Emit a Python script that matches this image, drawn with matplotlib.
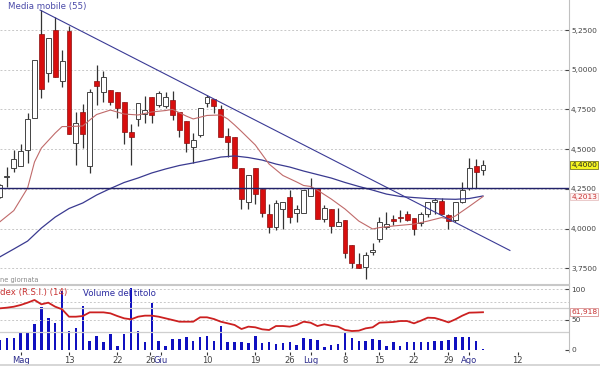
import matplotlib
matplotlib.use("Agg")
import matplotlib.pyplot as plt
import numpy as np

# ---------------- data ----------------
opens = [4.198, 4.325, 4.381, 4.394, 4.494, 4.696, 5.225, 4.979, 5.250, 4.929,
         5.244, 4.538, 4.734, 4.394, 4.929, 4.860, 4.872, 4.860, 4.797, 4.608,
         4.690, 4.721, 4.828, 4.778, 4.773, 4.809, 4.736, 4.677, 4.515, 4.589,
         4.793, 4.813, 4.750, 4.583, 4.574, 4.383, 4.169, 4.383, 4.247, 4.091,
         4.011, 4.121, 4.197, 4.096, 4.096, 4.205, 4.253, 4.060, 4.121, 4.016,
         4.053, 3.896, 3.777, 3.756, 3.854, 3.932, 4.007, 4.058, 4.074, 4.091,
         4.068, 4.037, 4.091, 4.167, 4.173, 4.085, 4.053, 4.169, 4.253, 4.396,
         4.368]
closes = [4.274, 4.330, 4.438, 4.488, 4.690, 5.061, 4.878, 5.200, 4.954, 5.055,
          4.595, 4.664, 4.595, 4.860, 4.897, 4.954, 4.797, 4.759, 4.608, 4.576,
          4.790, 4.747, 4.715, 4.851, 4.830, 4.715, 4.620, 4.540, 4.557, 4.757,
          4.826, 4.773, 4.574, 4.547, 4.379, 4.184, 4.337, 4.215, 4.100, 4.011,
          4.159, 4.169, 4.070, 4.121, 4.243, 4.253, 4.060, 4.127, 4.016, 4.043,
          3.844, 3.785, 3.750, 3.833, 3.865, 4.043, 4.028, 4.050, 4.066, 4.053,
          3.995, 4.091, 4.167, 4.180, 4.091, 4.047, 4.169, 4.243, 4.379, 4.358,
          4.400]
highs = [4.280, 4.387, 4.494, 4.532, 4.727, 5.061, 5.376, 5.200, 5.330, 5.124,
         5.275, 4.734, 4.784, 4.878, 5.030, 4.992, 4.872, 4.860, 4.797, 4.658,
         4.790, 4.834, 4.828, 4.868, 4.861, 4.868, 4.736, 4.677, 4.600, 4.757,
         4.840, 4.813, 4.778, 4.631, 4.574, 4.383, 4.337, 4.383, 4.247, 4.155,
         4.180, 4.169, 4.243, 4.148, 4.243, 4.316, 4.253, 4.148, 4.121, 4.127,
         4.053, 3.896, 3.844, 3.854, 3.907, 4.070, 4.106, 4.085, 4.117, 4.110,
         4.068, 4.106, 4.167, 4.195, 4.190, 4.091, 4.169, 4.295, 4.442, 4.436,
         4.430]
lows = [4.190, 4.261, 4.356, 4.394, 4.413, 4.696, 4.822, 4.923, 4.954, 4.891,
        4.595, 4.400, 4.507, 4.350, 4.780, 4.797, 4.780, 4.696, 4.532, 4.400,
        4.645, 4.664, 4.664, 4.767, 4.757, 4.683, 4.574, 4.484, 4.410, 4.574,
        4.767, 4.725, 4.574, 4.452, 4.379, 4.121, 4.121, 4.152, 4.074, 3.974,
        3.990, 4.000, 4.033, 4.043, 4.096, 4.205, 4.060, 4.043, 3.974, 4.016,
        3.812, 3.750, 3.750, 3.680, 3.833, 3.917, 4.000, 4.022, 4.043, 4.045,
        3.959, 4.016, 4.070, 4.090, 4.091, 3.995, 4.040, 4.159, 4.243, 4.253,
        4.337]

volume = [10.0, 12.3, 11.7, 17.7, 18.3, 25.7, 42.7, 31.7, 26.7, 59.3,
          19.0, 21.7, 44.3, 9.3, 14.3, 8.3, 15.7, 4.0, 15.7, 62.3,
          19.0, 7.7, 46.7, 9.0, 4.0, 10.7, 10.7, 12.7, 9.0, 13.3,
          14.3, 9.3, 24.0, 8.3, 8.3, 8.3, 7.3, 14.3, 7.3, 8.3,
          5.7, 6.7, 7.7, 5.0, 11.7, 11.0, 10.3, 2.7, 5.0, 6.0,
          17.7, 11.7, 9.3, 9.3, 11.0, 10.3, 4.3, 8.3, 3.7, 7.7,
          7.7, 8.3, 8.3, 9.3, 9.3, 10.0, 13.3, 12.7, 13.3, 9.3,
          1.0]

rsi = [68.3, 69.4, 71.0, 73.8, 77.6, 82.0, 74.9, 77.6, 71.0, 66.7,
       54.6, 54.6, 55.7, 61.7, 61.7, 61.7, 60.1, 55.7, 51.9, 50.3,
       54.6, 56.3, 56.3, 54.6, 51.9, 49.2, 46.4, 46.4, 46.4, 53.6,
       53.6, 50.8, 46.4, 43.7, 41.0, 34.4, 38.3, 37.2, 33.9, 32.8,
       39.3, 39.3, 38.3, 41.0, 46.4, 44.8, 39.3, 42.1, 39.9, 38.3,
       32.8, 31.1, 31.7, 35.5, 37.2, 44.8, 45.3, 45.9, 47.5, 47.5,
       43.7, 48.1, 53.0, 52.5, 49.2, 45.3, 50.3, 56.3, 61.2, 61.5,
       61.918]

ma55_idx = [0, 2, 4, 6, 8, 10, 12, 14, 16, 18, 20, 22, 24, 26, 28, 30, 32, 34,
            36, 38, 40, 42, 44, 46, 48, 50, 52, 54, 56, 58, 60, 62, 64, 66, 68, 70]
ma55_val = [3.822, 3.871, 3.921, 4.003, 4.072, 4.126, 4.161, 4.211, 4.252, 4.290,
            4.318, 4.350, 4.375, 4.397, 4.413, 4.431, 4.450, 4.457, 4.447, 4.431,
            4.406, 4.387, 4.362, 4.340, 4.318, 4.290, 4.265, 4.242, 4.217, 4.202,
            4.195, 4.189, 4.186, 4.184, 4.189, 4.205]

mas_idx = [0, 2, 4, 5, 6, 8, 9, 10, 12, 13, 14, 16, 18, 20, 22, 24, 25, 27, 28,
           30, 32, 33, 34, 35, 37, 39, 41, 43, 44, 45, 46, 48, 50, 52, 54, 55,
           57, 60, 62, 64, 65, 66, 68, 70]
mas_val = [4.043, 4.113, 4.255, 4.419, 4.507, 4.601, 4.642, 4.642, 4.646, 4.683,
           4.718, 4.746, 4.721, 4.715, 4.734, 4.743, 4.750, 4.708, 4.690, 4.712,
           4.715, 4.690, 4.652, 4.611, 4.526, 4.406, 4.334, 4.293, 4.271, 4.265,
           4.242, 4.186, 4.123, 4.047, 3.997, 4.006, 4.016, 4.028, 4.047, 4.069,
           4.060, 4.079, 4.139, 4.2013]

trend_x = [5.8, 73.9]
trend_y = [5.376, 3.862]
hline_level = 4.255
last_price = 4.40

price_ticks = [3.75, 4.00, 4.25, 4.50, 4.75, 5.00, 5.25]
rsi_ticks = [0, 50, 100]

date_pos = [3, 10, 17, 21.8, 23.3, 30, 37, 42, 45, 50, 55, 60, 65, 68, 75]
date_lab = ["Mag", "13", "22", "26", "Giu", "10", "19", "26", "Lug", "8", "15",
            "22", "29", "Ago", "12"]

# ---------------- figure ----------------
W, H = 600, 367
fig = plt.figure(figsize=(6, 3.67), dpi=100)
fig.patch.set_facecolor("white")

def fx(px):
    return px / W

def fy(py):
    return 1 - py / H

right_px = 569
ax = fig.add_axes([0, fy(283), fx(right_px), fy(0) - fy(283)])
ax2 = fig.add_axes([0, fy(352), fx(right_px), fy(284) - fy(352)])
axv = ax2.twinx()

n = len(opens)
idx = np.arange(n)
xmax = right_px / 6.9
LS = 5.4

# main panel
for s in ["left", "top", "bottom"]:
    ax.spines[s].set_visible(False)
ax.spines["right"].set_color("#c0c0c0")
ax.set_xlim(0, xmax)
ax.set_ylim(3.657, 5.439)
ax.set_yticks(price_ticks)
ax.yaxis.tick_right()
ax.set_yticklabels([f"{v:.4f}".replace(".", ",") for v in price_ticks])
ax.tick_params(axis="y", direction="in", length=3, pad=1.5, labelsize=LS,
               colors="#444444")
ax.tick_params(axis="x", bottom=False, labelbottom=False)
for v in price_ticks:
    ax.axhline(v, color="#c8c8c8", lw=0.7, ls=(0, (2, 2)), zorder=0)

o = np.array(opens); c = np.array(closes)
hi = np.array(highs); lo = np.array(lows)
up = c >= o
ax.vlines(idx, lo, hi, color="#333333", lw=0.9, zorder=2)
bottoms = np.minimum(o, c)
heights = np.maximum(np.abs(c - o), 0.006)
ax.bar(idx[up], heights[up], bottom=bottoms[up], width=0.72,
       facecolor="white", edgecolor="#444444", lw=0.7, zorder=3)
ax.bar(idx[~up], heights[~up], bottom=bottoms[~up], width=0.72,
       facecolor="#d80e0e", edgecolor="#8a1010", lw=0.5, zorder=3)

ax.plot(ma55_idx, ma55_val, color="#3a3a90", lw=0.9, zorder=4)
ax.plot(mas_idx, mas_val, color="#c06a6a", lw=0.8, zorder=4)
ax.plot(trend_x, trend_y, color="#3a3a95", lw=0.8, zorder=4)
ax.axhline(hline_level, color="#22226a", lw=1.0, zorder=4)

ax.text(1.004, last_price, "4,4000", transform=ax.get_yaxis_transform(),
        va="center", ha="left", fontsize=LS, color="#222222", zorder=10,
        bbox=dict(boxstyle="square,pad=0.12", fc="#f5f520", ec="#777722", lw=0.6),
        clip_on=False)
ax.text(1.004, mas_val[-1], "4,2013", transform=ax.get_yaxis_transform(),
        va="center", ha="left", fontsize=LS, color="#c83232", zorder=10,
        bbox=dict(boxstyle="square,pad=0.12", fc="#fff3f3", ec="#e6c3c3", lw=0.6),
        clip_on=False)

# lower panel: volume (behind) + RSI
axv.set_ylim(-2, 66)
axv.set_axis_off()
axv.bar(idx, volume, width=0.36, color="#1010c0", zorder=3)
ax2.set_zorder(axv.get_zorder() + 1)
ax2.patch.set_visible(False)

for s in ["left", "top", "bottom"]:
    ax2.spines[s].set_visible(False)
ax2.spines["right"].set_color("#c0c0c0")
ax2.set_xlim(0, xmax)
axv.set_xlim(0, xmax)
ax2.set_ylim(-3.28, 108.2)
ax2.set_yticks(rsi_ticks)
ax2.set_yticklabels([str(v) for v in rsi_ticks])
ax2.yaxis.tick_right()
ax2.tick_params(axis="y", which="both", left=False, labelleft=False,
                right=True, labelright=True, direction="in", length=3,
                pad=1.5, labelsize=LS, colors="#444444")
for v in [100, 79, 50]:
    ax2.axhline(v, color="#c8c8c8", lw=0.7, ls=(0, (2, 2)), zorder=0)
for v in [69, 30]:
    ax2.axhline(v, color="#cfcfcf", lw=0.9, zorder=0)

ax2.plot(idx, rsi, color="#cc2020", lw=1.3, zorder=5)
ax2.text(1.004, rsi[-1], "61,918", transform=ax2.get_yaxis_transform(),
         va="center", ha="left", fontsize=LS, color="#c83232", zorder=10,
         bbox=dict(boxstyle="square,pad=0.12", fc="white", ec="#d89090", lw=0.6),
         clip_on=False)

ax2.set_xticks(date_pos)
ax2.set_xticklabels(date_lab)
ax2.tick_params(axis="x", direction="out", length=2.5, pad=0.5, labelsize=6,
                colors="#333333")
for t, lab in zip(ax2.get_xticklabels(), date_lab):
    if not lab.isdigit():
        t.set_color("#2a2a8a")
    else:
        t.set_color("#444444")

# separators and labels
fig.add_artist(plt.Line2D([0, fx(right_px)], [fy(284.5), fy(284.5)],
                          color="#c8c8c8", lw=1.5))
fig.add_artist(plt.Line2D([0, 1], [fy(365), fy(365)], color="#d0d0d0", lw=1.2))
fig.text(fx(8), fy(6), "Media mobile (55)", fontsize=6.2, color="#4a4aa8",
         va="center", ha="left")
fig.text(fx(0), fy(280), "ne giornata", fontsize=4.8, color="#888888",
         va="center", ha="left")
fig.text(fx(0), fy(293), "dex (R.S.I.) (14)", fontsize=6.2, color="#c83232",
         va="center", ha="left")
fig.text(fx(83), fy(293), "Volume del titolo", fontsize=6.2, color="#2a2aa0",
         va="center", ha="left")

fig.savefig("out.png", dpi=100, facecolor="white")
